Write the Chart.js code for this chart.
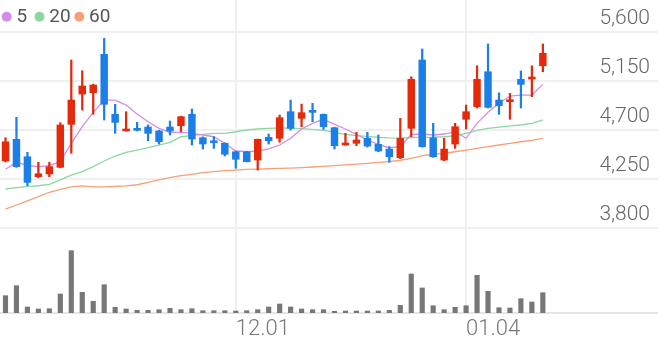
<!DOCTYPE html>
<html><head><meta charset="utf-8">
<script src="https://cdn.jsdelivr.net/npm/chart.js@4/dist/chart.umd.min.js"></script>
<style>html,body{margin:0;padding:0;background:#fff;}canvas{display:block;}</style>
</head><body>
<canvas id="c" width="658" height="342"></canvas>
<script>
const dates = ['11.02','11.03','11.04','11.05','11.06','11.09','11.10','11.11','11.12','11.13',
  '11.16','11.17','11.18','11.19','11.20','11.23','11.24','11.25','11.26','11.27',
  '11.30','12.01','12.02','12.03','12.04','12.07','12.08','12.09','12.10','12.11',
  '12.14','12.15','12.16','12.17','12.18','12.21','12.22','12.23','12.24','12.28',
  '12.29','12.30','01.04','01.05','01.06','01.07','01.08','01.11','01.12','01.13'];
const emptySlots = 10;
const opens  = [4418,4617,4457,4274,4299,4360,4755,5033,5045,5398,4847,4694,4715,4730,4694,4730,4742,4847,4632,4597,4581,4503,4503,4427,4636,4627,4871,4810,4877,4847,4724,4565,4581,4627,4571,4528,4448,4718,5346,4632,4427,4574,4801,4917,5238,4978,4963,5168,5171,5293];
const highs  = [4632,4819,4498,4406,4406,4770,5346,5247,5125,5545,4939,4871,4773,4749,4700,4785,4830,4896,4640,4641,4585,4510,4508,4620,4666,4840,4978,4941,4948,4850,4728,4672,4682,4682,4657,4550,4810,5192,5447,4764,4627,4764,4932,5293,5493,5045,5039,5245,5293,5493];
const lows   = [4410,4360,4191,4265,4274,4355,4489,4886,4847,4795,4672,4694,4694,4604,4574,4657,4687,4565,4528,4534,4464,4351,4410,4335,4574,4590,4703,4733,4779,4709,4528,4562,4559,4546,4503,4406,4440,4641,4545,4452,4420,4534,4712,4905,4905,4847,4801,4905,5009,5238];
const closes = [4595,4366,4222,4301,4366,4749,4978,5107,5116,4939,4773,4703,4700,4672,4595,4694,4825,4620,4574,4586,4480,4434,4412,4617,4604,4816,4718,4862,4865,4733,4559,4570,4611,4556,4510,4457,4627,5168,4550,4457,4528,4733,4871,5168,4911,4926,4972,5122,5183,5407];
const volumes = [173,273,60,40,43,190,623,207,117,283,57,40,27,27,33,47,33,43,23,23,23,20,23,33,60,90,60,40,33,33,17,20,20,20,20,27,77,390,250,73,33,57,73,377,217,53,50,143,110,203];
const ma5  = [4342,4406,4375,4366,4375,4412,4581,4733,4865,4978,4978,4932,4850,4779,4718,4682,4682,4672,4657,4641,4581,4510,4503,4510,4530,4565,4627,4712,4764,4801,4755,4712,4663,4611,4571,4540,4550,4662,4666,4657,4666,4687,4627,4764,4865,4948,5015,5024,5024,5122];
const ma20 = [4161,4173,4182,4191,4204,4244,4289,4320,4366,4418,4464,4498,4518,4540,4565,4590,4641,4651,4663,4672,4672,4687,4703,4712,4718,4722,4720,4715,4709,4700,4682,4663,4651,4645,4636,4630,4628,4634,4636,4637,4641,4648,4672,4700,4718,4730,4740,4749,4764,4795];
const ma60 = [3977,4014,4051,4090,4131,4158,4180,4190,4180,4180,4184,4190,4200,4222,4244,4265,4283,4296,4311,4320,4329,4335,4342,4344,4347,4350,4353,4357,4363,4369,4375,4382,4390,4397,4405,4413,4425,4443,4467,4480,4489,4503,4519,4534,4550,4565,4581,4595,4608,4627];
const maNames = ['5','20','60'];
const priceTicks = [3800,4250,4700,5150,5600];

const UP = '#e5290b', DOWN = '#1c7fe8';
const maColors = ['#d48ce8','#8bd8a0','#f6a078'];
const labels = dates.concat(Array(emptySlots).fill(''));
const candleColors = opens.map((o,i)=> closes[i] >= o ? UP : DOWN);
const wickData = lows.map((l,i)=>[l, highs[i]]);
const bodyData = opens.map((o,i)=>[Math.min(o,closes[i]), Math.max(o,closes[i])]);
const monthStart = i => i>0 && i<dates.length && dates[i].slice(0,2) !== dates[i-1].slice(0,2);

const zeroFit = s => { s.paddingTop=0; s.paddingBottom=0; s.paddingLeft=0; s.paddingRight=0; };

const legendPlugin = {
  id:'maLegend',
  afterDraw(chart){
    const ctx = chart.ctx; ctx.save();
    const dotX = [6.7, 39.5, 79.3];
    ctx.font = '19px Roboto'; ctx.textBaseline='middle'; ctx.textAlign='left';
    maNames.forEach((n,k)=>{
      ctx.fillStyle = maColors[k];
      ctx.beginPath(); ctx.arc(dotX[k], 16.7, 5, 0, Math.PI*2); ctx.fill();
      ctx.fillStyle = '#555';
      ctx.fillText(n, dotX[k]+9.8, 17);
    });
    ctx.restore();
  }
};

new Chart(document.getElementById('c'), {
  type:'bar',
  data:{
    labels,
    datasets:[
      {type:'line', label:'MA'+maNames[0], data:ma5, yAxisID:'y', borderColor:maColors[0], borderWidth:1.3, pointRadius:0, tension:0, order:10},
      {type:'line', label:'MA'+maNames[1], data:ma20, yAxisID:'y', borderColor:maColors[1], borderWidth:1.3, pointRadius:0, tension:0, order:11},
      {type:'line', label:'MA'+maNames[2], data:ma60, yAxisID:'y', borderColor:maColors[2], borderWidth:1.3, pointRadius:0, tension:0, order:12},
      {label:'wick', data:wickData, yAxisID:'y', backgroundColor:candleColors, barThickness:1.6, grouped:false, borderWidth:0, order:2},
      {label:'body', data:bodyData, yAxisID:'y', backgroundColor:candleColors, barThickness:6.8, grouped:false, borderWidth:0, minBarLength:2, order:1},
      {label:'volume', data:volumes, yAxisID:'yv', backgroundColor:'#777777', barThickness:4.5, grouped:false, borderWidth:0, order:3}
    ]
  },
  options:{
    responsive:false, animation:false, devicePixelRatio:1,
    layout:{padding:0},
    plugins:{legend:{display:false}, tooltip:{enabled:false}},
    scales:{
      x:{
        offset:true,
        afterBuildTicks: s => { s.ticks = s.ticks.filter(t => monthStart(t.value)); },
        afterFit: s => { s.height = 29; zeroFit(s); },
        grid:{offset:false, color:'#f0f0f0', lineWidth:2, drawTicks:false},
        border:{display:true, color:'#e6e6e6', width:2},
        ticks:{autoSkip:false, maxRotation:0, align:'start', padding:3, color:'#777',
          font:{family:'Roboto', size:22, weight:'300'},
          callback:(v)=> labels[v]}
      },
      y:{
        position:'right', min:3022, max:5897,
        afterBuildTicks: s => { s.ticks = priceTicks.map(v=>({value:v})); },
        afterFit: s => { s.width = 0; zeroFit(s); },
        grid:{color:'#f0f0f0', lineWidth:2, drawTicks:false},
        border:{display:false},
        ticks:{mirror:true, padding:-8, labelOffset:-14, color:'#666',
          font:{family:'Roboto', size:21, weight:'300'},
          callback:v => v.toLocaleString('en-US')}
      },
      yv:{
        display:false, min:0, max:3130,
        afterFit: s => { s.width = 0; zeroFit(s); }
      }
    }
  },
  plugins:[legendPlugin]
});
</script>
</body></html>
